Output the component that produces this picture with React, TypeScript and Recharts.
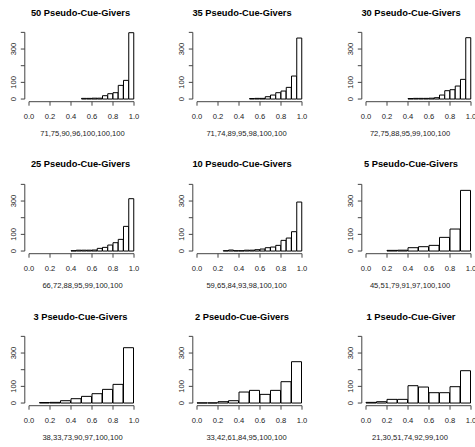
import React from 'react';
import { BarChart, Bar, XAxis, YAxis, ReferenceLine } from 'recharts';

const FONT = '"Liberation Sans", Arial, Helvetica, sans-serif';

const titles = [
  '50 Pseudo-Cue-Givers',
  '35 Pseudo-Cue-Givers',
  '30 Pseudo-Cue-Givers',
  '25 Pseudo-Cue-Givers',
  '10 Pseudo-Cue-Givers',
  '5 Pseudo-Cue-Givers',
  '3 Pseudo-Cue-Givers',
  '2 Pseudo-Cue-Givers',
  '1 Pseudo-Cue-Giver',
];

const subtitles = [
  '71,75,90,96,100,100,100',
  '71,74,89,95,98,100,100',
  '72,75,88,95,99,100,100',
  '66,72,88,95,99,100,100',
  '59,65,84,93,98,100,100',
  '45,51,79,91,97,100,100',
  '38,33,73,90,97,100,100',
  '33,42,61,84,95,100,100',
  '21,30,51,74,92,99,100',
];

// first break and bin width of each histogram
const binStarts = [0.5, 0.5, 0.4, 0.4, 0.25, 0.2, 0.1, 0.0, 0.0];
const binWidths = [0.05, 0.05, 0.05, 0.05, 0.05, 0.1, 0.1, 0.1, 0.1];

// counts per bin, from the first break up to 1.0
const counts50 = [4, 4, 5, 5, 20, 32, 38, 82, 112, 398];
const counts35 = [3, 4, 4, 14, 24, 38, 48, 70, 138, 366];
const counts30 = [3, 4, 4, 4, 5, 8, 24, 50, 56, 78, 118, 368];
const counts25 = [2, 5, 5, 5, 6, 16, 22, 36, 50, 70, 148, 314];
const counts10 = [2, 6, 2, 2, 5, 5, 8, 12, 20, 24, 34, 64, 78, 116, 294];
const counts5 = [4, 5, 20, 26, 34, 82, 132, 364];
const counts3 = [3, 4, 14, 26, 40, 56, 82, 112, 332];
const counts2 = [1, 1, 8, 14, 66, 76, 52, 76, 128, 248];
const counts1 = [4, 8, 22, 22, 104, 96, 62, 62, 98, 194];

const allCounts = [counts50, counts35, counts30, counts25, counts10, counts5, counts3, counts2, counts1];

const xTicks = [0, 0.2, 0.4, 0.6, 0.8, 1.0];
const yTicks = [0, 100, 200, 300, 400];
const yLabels = [0, 100, 300];

// layout
const PANEL_W = 168;
const PANEL_H = 152;
const colX = [0, 168, 337];
const rowY = [0, 151.7, 304];
const titleX = [80.5, 242, 411];
const subX = [82.5, 246.5, 410];

function buildBins(start: number, bw: number, counts: number[]) {
  return counts.map((count, i) => ({ mid: start + bw * (i + 0.5), count }));
}

const XTick = (props: any) => {
  const { x, y, payload } = props;
  return (
    <text x={x} y={y + 8.8} textAnchor="middle" dominantBaseline="central" fontSize={7.6} fill="#222" fontFamily={FONT}>
      {Number(payload.value).toFixed(1)}
    </text>
  );
};

const YTick = (props: any) => {
  const { x, y, payload } = props;
  if (!yLabels.includes(payload.value)) return <g />;
  const cx = x - 5.6;
  return (
    <text x={cx} y={y} transform={`rotate(-90 ${cx} ${y})`} textAnchor="middle" dominantBaseline="central" fontSize={7.6} fill="#222" fontFamily={FONT}>
      {payload.value}
    </text>
  );
};

function Histogram({ data }: { data: any[] }) {
  return (
    <BarChart
      width={PANEL_W}
      height={PANEL_H}
      data={data}
      margin={{ top: 29.7, right: 29.8, bottom: 20.3, left: 4.8 }}
      barCategoryGap={0}
      barGap={0}
    >
      <XAxis
        dataKey="mid"
        type="number"
        domain={[-0.04, 1.04]}
        allowDataOverflow
        ticks={xTicks}
        interval={0}
        height={30}
        axisLine={false}
        tickSize={4}
        tickLine={{ stroke: '#444', strokeWidth: 1 }}
        tick={<XTick />}
      />
      <YAxis
        type="number"
        domain={[-16, 416]}
        allowDataOverflow
        ticks={yTicks}
        interval={0}
        width={20}
        axisLine={false}
        tickSize={4}
        tickLine={{ stroke: '#444', strokeWidth: 1 }}
        tick={<YTick />}
      />
      <ReferenceLine
        segment={[{ x: 0, y: -16 }, { x: 1, y: -16 }]}
        stroke="#444"
        strokeWidth={1}
        ifOverflow="visible"
      />
      <ReferenceLine
        segment={[{ x: -0.04, y: 0 }, { x: -0.04, y: 400 }]}
        stroke="#444"
        strokeWidth={1}
        ifOverflow="visible"
      />
      <Bar dataKey="count" fill="#fff" stroke="#000" strokeWidth={1} isAnimationActive={false} />
    </BarChart>
  );
}

export default function App() {
  return (
    <div
      style={{
        position: 'absolute',
        left: 0,
        top: 0,
        width: 475,
        height: 447,
        overflow: 'hidden',
        background: '#fff',
        fontFamily: FONT,
      }}
    >
      {titles.map((t, i) => {
        const c = i % 3;
        const r = Math.floor(i / 3);
        const data = buildBins(binStarts[i], binWidths[i], allCounts[i]);
        return (
          <React.Fragment key={t}>
            <div style={{ position: 'absolute', left: colX[c], top: rowY[r], width: PANEL_W, height: PANEL_H }}>
              <Histogram data={data} />
            </div>
            <div
              style={{
                position: 'absolute',
                left: titleX[c],
                top: rowY[r] + 13.5,
                transform: 'translate(-50%, -50%)',
                whiteSpace: 'nowrap',
                fontSize: 9.3,
                fontWeight: 'bold',
                lineHeight: 1,
                color: '#000',
              }}
            >
              {t}
            </div>
            <div
              style={{
                position: 'absolute',
                left: subX[c],
                top: rowY[r] + 134,
                transform: 'translate(-50%, -50%)',
                whiteSpace: 'nowrap',
                fontSize: 7.6,
                lineHeight: 1,
                color: '#222',
              }}
            >
              {subtitles[i]}
            </div>
          </React.Fragment>
        );
      })}
    </div>
  );
}
